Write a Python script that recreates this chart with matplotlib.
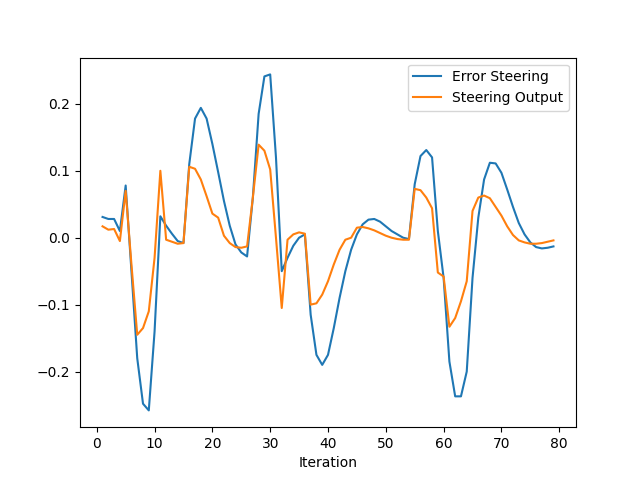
import matplotlib
matplotlib.use("Agg")
import matplotlib.pyplot as plt

iterations = list(range(1, 80))
error_steering = [0.031, 0.028, 0.028, 0.010, 0.078, -0.05, -0.18, -0.248, -0.258, -0.14,
    0.032, 0.018, 0.006, -0.005, -0.008, 0.11, 0.178, 0.194, 0.178, 0.14,
    0.098, 0.055, 0.018, -0.01, -0.022, -0.028, 0.06, 0.185, 0.241, 0.244,
    0.12, -0.05, -0.03, -0.012, 0.0, 0.005, -0.115, -0.175, -0.19, -0.175,
    -0.135, -0.09, -0.05, -0.018, 0.005, 0.02, 0.027, 0.028, 0.024, 0.017,
    0.01, 0.005, 0.0, -0.002, 0.08, 0.122, 0.131, 0.12, 0.01, -0.06,
    -0.185, -0.237, -0.237, -0.2, -0.06, 0.03, 0.087, 0.112, 0.111, 0.097,
    0.072, 0.046, 0.022, 0.005, -0.007, -0.014, -0.016, -0.015, -0.013]
steering_output = [0.017, 0.012, 0.013, -0.005, 0.07, -0.04, -0.145, -0.135, -0.11, -0.03,
    0.1, -0.003, -0.006, -0.009, -0.008, 0.106, 0.103, 0.087, 0.062, 0.036,
    0.03, 0.003, -0.008, -0.014, -0.015, -0.013, 0.06, 0.139, 0.13, 0.102,
    0.0, -0.105, -0.003, 0.005, 0.008, 0.006, -0.1, -0.098, -0.085, -0.065,
    -0.04, -0.018, -0.003, 0.0, 0.015, 0.016, 0.014, 0.011, 0.007, 0.003,
    0.0, -0.002, -0.003, -0.003, 0.073, 0.071, 0.06, 0.044, -0.052, -0.058,
    -0.133, -0.12, -0.095, -0.065, 0.04, 0.06, 0.063, 0.059, 0.046, 0.033,
    0.017, 0.004, -0.004, -0.007, -0.009, -0.009, -0.008, -0.006, -0.004]

fig, ax = plt.subplots(figsize=(6.4, 4.8), dpi=100)
ax.plot(iterations, error_steering, label="Error Steering")
ax.plot(iterations, steering_output, label="Steering Output")
ax.set_xlabel("Iteration")
ax.legend(loc="upper right")
fig.savefig("out.png")
